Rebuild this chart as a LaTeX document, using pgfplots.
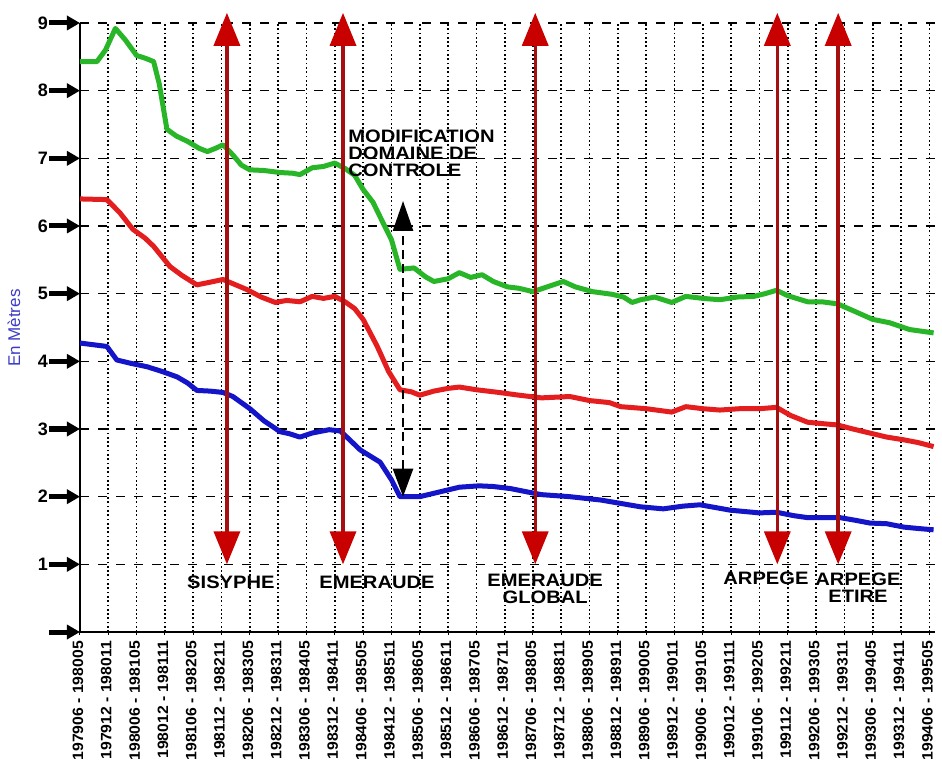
\documentclass[border=0pt]{standalone}
\usepackage{pgfplots}
\pgfplotsset{compat=1.18}
\usetikzlibrary{arrows.meta}
\usepackage{fontspec}
\setmainfont{Liberation Sans}
\newfontfamily\annfont[FakeStretch=1.12]{Liberation Sans}
\newfontfamily\tickfont[FakeStretch=1.05]{Liberation Sans}
\definecolor{cgreen}{RGB}{40,182,40}
\definecolor{cred}{RGB}{228,30,30}
\definecolor{cblue}{RGB}{20,20,200}
\definecolor{shaft}{RGB}{165,15,15}
\definecolor{headred}{RGB}{200,0,0}
\definecolor{labblue}{RGB}{60,60,200}

\pgfplotstableread{
k v
0 8.43
0.6 8.43
0.9 8.6
1.25 8.92
1.6 8.75
2.0 8.52
2.3 8.48
2.6 8.43
2.8 8.1
3.07 7.43
3.4 7.33
3.8 7.25
4.2 7.15
4.5 7.1
4.8 7.15
5.05 7.2
5.4 7.05
5.7 6.9
6.0 6.83
6.5 6.82
7.07 6.79
7.5 6.78
7.77 6.76
8.2 6.86
8.6 6.88
9.0 6.93
9.36 6.85
9.7 6.75
10.0 6.54
10.35 6.35
10.7 6.05
11.0 5.8
11.3 5.36
11.8 5.38
12.2 5.25
12.5 5.18
13.0 5.22
13.4 5.31
13.8 5.24
14.2 5.28
14.6 5.18
15.1 5.1
15.5 5.08
16.0 5.03
16.5 5.1
17.07 5.18
17.5 5.1
18.1 5.03
18.8 4.99
19.2 4.95
19.5 4.87
19.8 4.91
20.3 4.95
20.9 4.87
21.4 4.96
22.0 4.93
22.6 4.91
23.2 4.95
23.8 4.96
24.2 5.0
24.6 5.05
25.0 4.97
25.7 4.88
26.2 4.88
26.75 4.85
27.3 4.75
28.0 4.62
28.6 4.57
29.3 4.47
30.15 4.42
}\greendata

\pgfplotstableread{
k v
0 6.4
0.95 6.39
1.4 6.2
1.87 5.95
2.3 5.82
2.6 5.7
3.18 5.4
3.6 5.27
4.13 5.13
4.6 5.17
5.05 5.21
5.5 5.13
5.9 5.06
6.4 4.95
6.9 4.87
7.3 4.9
7.77 4.88
8.2 4.96
8.6 4.93
9.0 4.96
9.36 4.88
9.7 4.78
10.0 4.62
10.5 4.22
10.9 3.85
11.3 3.58
11.7 3.55
12.0 3.5
12.5 3.56
13.0 3.6
13.4 3.62
14.0 3.58
14.8 3.54
15.5 3.5
16.3 3.46
17.3 3.48
18.0 3.42
18.7 3.39
19.1 3.33
20.0 3.3
20.9 3.25
21.4 3.33
22.0 3.3
22.6 3.28
23.3 3.3
24.0 3.3
24.6 3.32
25.1 3.2
25.7 3.1
26.2 3.08
26.75 3.06
27.3 3.0
27.9 2.94
28.5 2.88
29.1 2.84
29.6 2.8
30.15 2.74
}\reddata

\pgfplotstableread{
k v
0 4.27
0.95 4.22
1.3 4.02
1.8 3.97
2.37 3.92
2.9 3.85
3.43 3.77
3.8 3.68
4.13 3.57
4.6 3.56
5.05 3.54
5.4 3.48
6.0 3.3
6.5 3.12
7.07 2.96
7.4 2.93
7.77 2.88
8.2 2.94
8.8 2.99
9.2 2.97
9.5 2.85
9.9 2.69
10.6 2.51
11.0 2.25
11.3 2.0
12.0 2.0
12.7 2.07
13.4 2.14
14.1 2.16
14.6 2.15
15.2 2.12
15.8 2.07
16.3 2.03
17.3 2.0
18.4 1.95
19.1 1.9
19.8 1.85
20.6 1.82
21.3 1.86
21.9 1.88
22.97 1.8
24.0 1.76
24.6 1.77
25.2 1.72
25.7 1.69
26.85 1.69
27.4 1.65
27.9 1.61
28.5 1.6
29.1 1.55
29.6 1.53
30.15 1.51
}\bluedata

\begin{document}
\begin{tikzpicture}
\useasboundingbox (-80pt,-139pt) rectangle (862pt,632pt);
\begin{axis}[
  at={(0,0)}, anchor=south west,
  scale only axis, width=855pt, height=609pt,
  xmin=0, xmax=30.2, ymin=0, ymax=9,
  enlargelimits=false, clip=false,
  axis x line=bottom, axis y line=left,
  axis line style={-, black, line width=1.5pt},
  xtick={0,...,30},
  xticklabels={197906 - 198005,197912 - 198011,198006 - 198105,198012 - 198111,198106 - 198205,198112 - 198211,198206 - 198305,198212 - 198311,198306 - 198405,198312 - 198411,198406 - 198505,198412 - 198511,198506 - 198605,198512 - 198611,198606 - 198705,198612 - 198711,198706 - 198805,198712 - 198811,198806 - 198905,198812 - 198911,198906 - 199005,198912 - 199011,199006 - 199105,199012 - 199111,199106 - 199205,199112 - 199211,199206 - 199305,199212 - 199311,199306 - 199405,199312 - 199411,199406 - 199505},
  xticklabel style={rotate=90, anchor=east, font=\tickfont\bfseries\fontsize{15}{15}\selectfont, inner sep=0pt, xshift=-6pt, yshift=2pt},
  ytick={0,...,9},
  yticklabels={{},1,2,3,4,5,6,7,8,9},
  yticklabel style={anchor=east, inner sep=0pt, xshift=-29pt, font=\bfseries\fontsize{18}{18}\selectfont},
  major tick length=3pt, tick align=outside,
  xtick style={black, line width=1pt},
  ytick style={draw=none},
  grid=major,
  x grid style={black, line width=1.7pt, dash pattern=on 1.7pt off 2.6pt},
  y grid style={black, line width=1.4pt, dash pattern=on 9pt off 9pt},
]
\addplot[cgreen, line width=5pt, line join=round, no markers] table[x=k,y=v] {\greendata};
\addplot[cred, line width=5pt, line join=round, no markers] table[x=k,y=v] {\reddata};
\addplot[cblue, line width=5pt, line join=round, no markers] table[x=k,y=v] {\bluedata};

\pgfplotsinvokeforeach{0,...,9}{
  \draw[black, line width=5pt, -{Triangle[length=13pt,width=14pt]}] ([xshift=-31pt]axis cs:0,#1) -- (axis cs:0,#1);
}

\pgfplotsinvokeforeach{5.19,9.29,16.08,24.63,26.78}{
  \draw[shaft, line width=3.5pt, {Triangle[length=33pt,width=26pt,color=headred]}-{Triangle[length=33pt,width=26pt,color=headred]}] (axis cs:#1,1.0) -- (axis cs:#1,9.15);
}

\draw[black, line width=2.5pt, dash pattern=on 9pt off 5pt, {Triangle[length=28pt,width=20pt]}-{Triangle[length=30pt,width=20pt]}] (axis cs:11.41,2.0) -- (axis cs:11.41,6.37);

\begin{scope}[every node/.style={font=\annfont\bfseries\fontsize{18}{17}\selectfont, inner sep=0pt, align=center}]
\node at (axis cs:5.33,0.74) {SISYPHE};
\node at (axis cs:10.49,0.74) {EMERAUDE};
\node at (axis cs:16.43,0.64) {EMERAUDE\\GLOBAL};
\node at (axis cs:24.23,0.80) {ARPEGE};
\node at (axis cs:27.48,0.66) {ARPEGE\\ETIRE};
\node[anchor=west, align=left] at (axis cs:9.47,7.08) {MODIFICATION\\DOMAINE DE\\CONTROLE};
\end{scope}

\node[rotate=90, text=labblue, font=\fontsize{17}{17}\selectfont, inner sep=0pt] at ([xshift=-66pt]axis cs:0,4.49) {En Mètres};
\end{axis}
\end{tikzpicture}
\end{document}
